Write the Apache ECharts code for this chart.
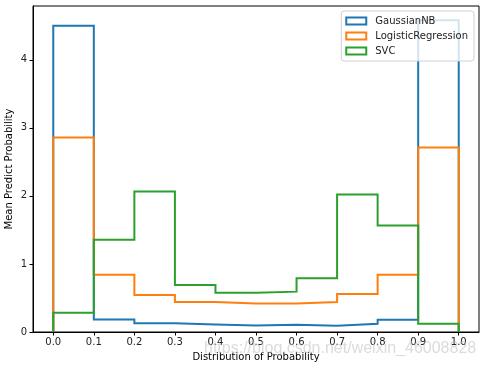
<!DOCTYPE html>
<html>
<head>
<meta charset="utf-8">
<script src="https://cdn.jsdelivr.net/npm/echarts@6/dist/echarts.min.js"></script>
<style>html,body{margin:0;padding:0;background:#fff;}#c{width:485px;height:369px;}</style>
</head>
<body>
<div id="c"></div>
<script>
// Data
var binEdges = [0, 0.1, 0.2, 0.3, 0.4, 0.5, 0.6, 0.7, 0.8, 0.9, 1.0];
var seriesNames = ['GaussianNB', 'LogisticRegression', 'SVC'];
var gaussianNB = [4.50, 0.185, 0.127, 0.11, 0.095, 0.105, 0.092, 0.12, 0.18, 4.58];
var logisticRegression = [2.857, 0.84, 0.545, 0.44, 0.42, 0.42, 0.44, 0.56, 0.84, 2.71];
var svc = [0.284, 1.357, 2.063, 0.69, 0.578, 0.593, 0.788, 2.02, 1.563, 0.122];
var xTicks = [0, 0.1, 0.2, 0.3, 0.4, 0.5, 0.6, 0.7, 0.8, 0.9, 1.0];
var yTicks = [0, 1, 2, 3, 4];

var colors = ['#1f77b4', '#ff7f0e', '#2ca02c'];
var font = 'DejaVu Sans';

function stepPoints(vals) {
  var pts = [[binEdges[0], 0]];
  for (var i = 0; i < vals.length; i++) {
    pts.push([binEdges[i], vals[i]]);
    pts.push([binEdges[i + 1], vals[i]]);
  }
  pts.push([binEdges[binEdges.length - 1], 0]);
  return pts;
}

var allVals = [gaussianNB, logisticRegression, svc];
var chart = echarts.init(document.getElementById('c'), null, {renderer: 'canvas'});
chart.setOption({
  animation: false,
  backgroundColor: '#fff',
  grid: {left: 33, right: 6, top: 6, bottom: 37, show: true, borderColor: '#000', borderWidth: 1,
    backgroundColor: 'transparent', containLabel: false, outerBoundsMode: 'none'},
  legend: {
    orient: 'vertical', right: 11, top: 11,
    itemWidth: 20, itemHeight: 7, itemGap: 5,
    padding: [5, 6, 5, 4],
    backgroundColor: 'rgba(255,255,255,0.8)',
    borderColor: '#d0d0d0', borderWidth: 1, borderRadius: 3,
    textStyle: {fontFamily: font, fontSize: 10, color: '#222', padding: [0, 0, 0, 4]},
    data: seriesNames.map(function (n, i) {
      return {name: n, icon: 'rect', itemStyle: {color: 'rgba(255,255,255,0)', borderColor: colors[i], borderWidth: 2}};
    })
  },
  xAxis: {
    type: 'value', min: -0.05, max: 1.05,
    name: 'Distribution of Probability', nameLocation: 'middle', nameGap: 20, nameMoveOverlap: false,
    nameTextStyle: {fontFamily: font, fontSize: 10, color: '#000'},
    axisLine: {show: true, onZero: false, lineStyle: {color: '#000', width: 1}},
    axisTick: {show: true, inside: false, length: 3.5, customValues: xTicks, lineStyle: {color: '#000'}},
    axisLabel: {customValues: xTicks, margin: 5, fontFamily: font, fontSize: 10, color: '#222',
      formatter: function (v) { return v.toFixed(1); }},
    splitLine: {show: false}
  },
  yAxis: {
    type: 'value', min: 0, max: 4.79,
    name: 'Mean Predict Probability', nameLocation: 'middle', nameGap: 19, nameMoveOverlap: false,
    nameTextStyle: {fontFamily: font, fontSize: 10, color: '#000'},
    axisLine: {show: true, onZero: false, lineStyle: {color: '#000', width: 1}},
    axisTick: {show: true, inside: false, length: 3.5, customValues: yTicks, lineStyle: {color: '#000'}},
    axisLabel: {customValues: yTicks, margin: 6, fontFamily: font, fontSize: 10, color: '#222',
      formatter: function (v) { return String(v); }},
    splitLine: {show: false}
  },
  graphic: [{
    type: 'text', left: 204, top: 341, z: 100,
    style: {text: 'https://blog.csdn.net/weixin_46008828', fontFamily: 'Liberation Sans', fontSize: 16,
      fill: 'rgba(190,190,190,0.55)'}
  }],
  series: seriesNames.map(function (n, i) {
    return {
      name: n, type: 'line', data: stepPoints(allVals[i]), showSymbol: false, symbol: 'none',
      lineStyle: {color: colors[i], width: 2, join: 'miter', cap: 'butt'},
      itemStyle: {color: colors[i]}, z: 2 + i, clip: true
    };
  })
});
</script>
</body>
</html>
